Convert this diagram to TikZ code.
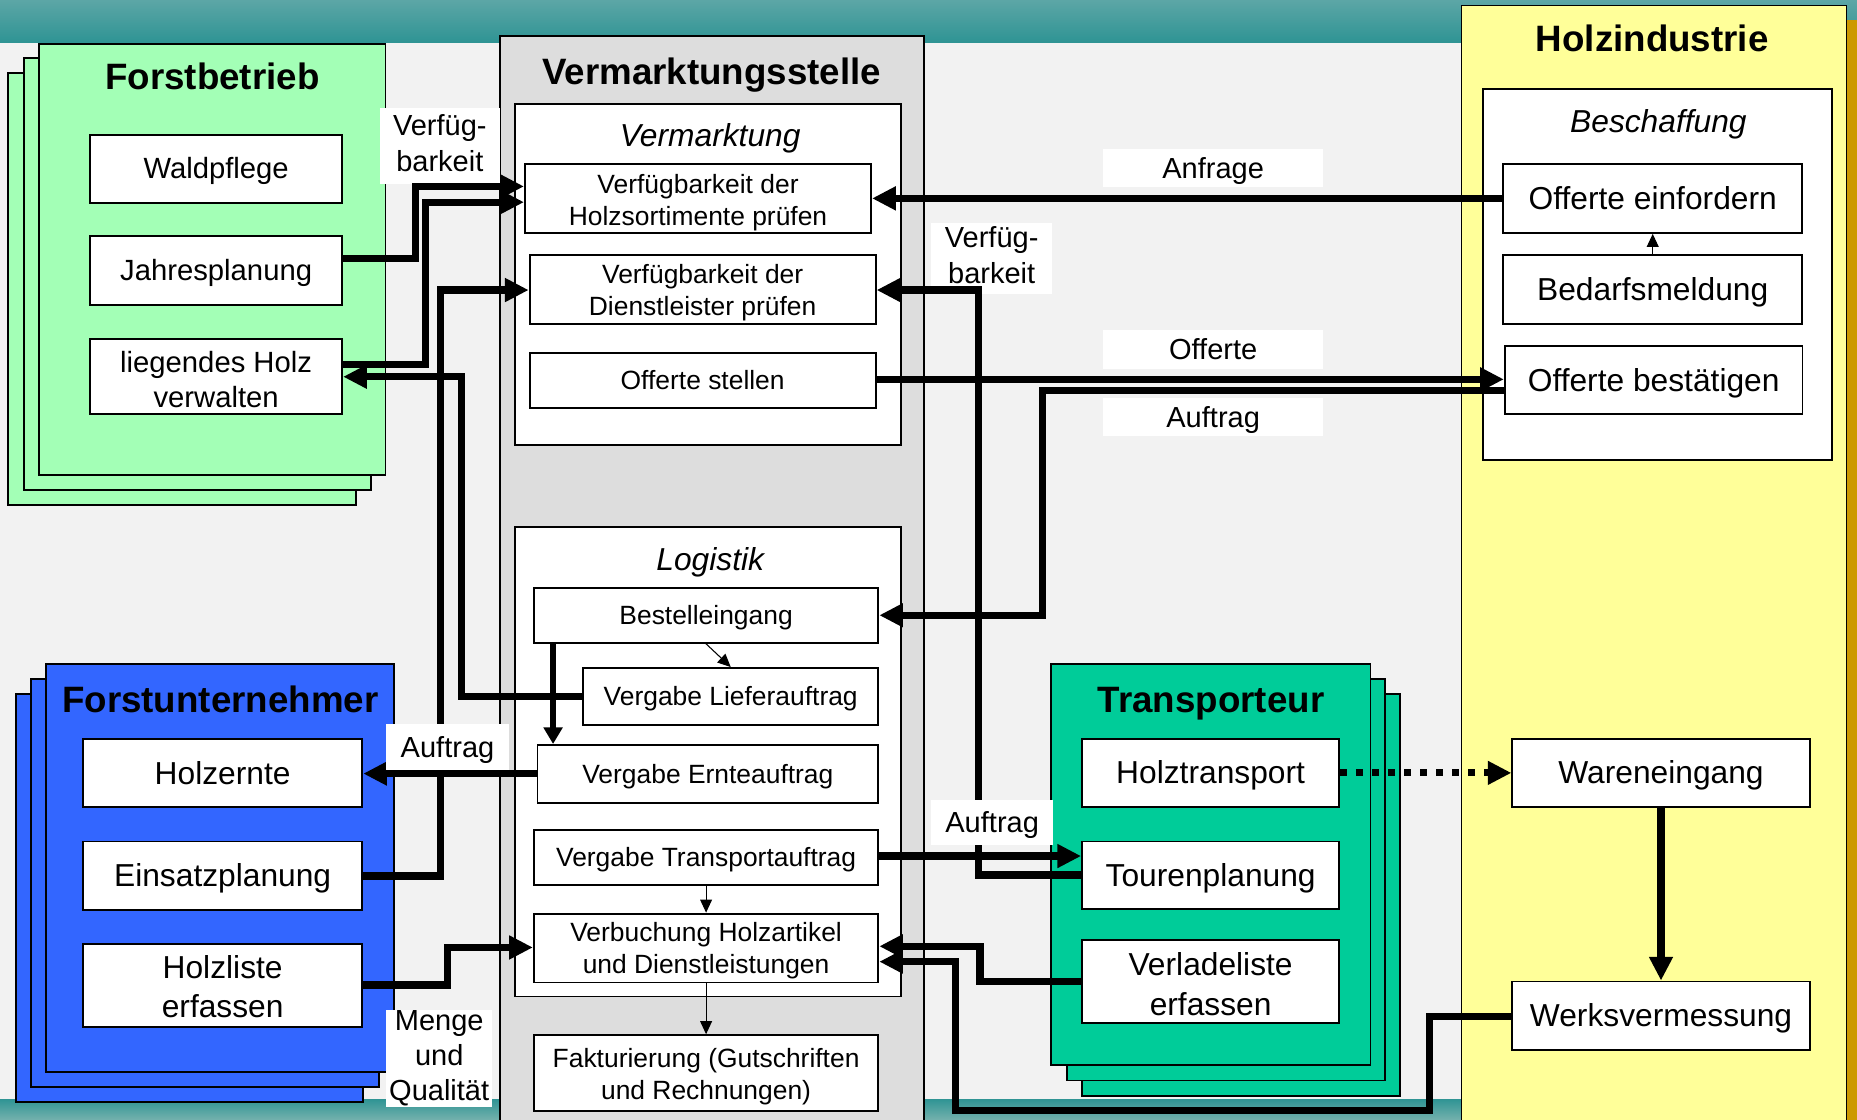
\documentclass[tikz,border=0pt]{standalone}
\usepackage{fontspec}
\setmainfont{Liberation Sans}
\usetikzlibrary{arrows.meta}
\definecolor{bg}{HTML}{F2F2F2}
\definecolor{tealtop}{HTML}{5CA6A6}
\definecolor{tealmid}{HTML}{2F9494}
\definecolor{tealbot}{HTML}{72B0AC}
\definecolor{panelgray}{HTML}{DDDDDD}
\definecolor{forstgreen}{HTML}{A3FFB6}
\definecolor{fublue}{HTML}{3366FF}
\definecolor{trgreen}{HTML}{00CC99}
\definecolor{holzyellow}{HTML}{FFFF99}
\definecolor{goldstrip}{HTML}{CC9900}
% invisible strut with the ascent and descent of the text face
\newcommand\bxstrut{\rule[-0.212em]{0pt}{1.117em}}
\begin{document}
\begin{tikzpicture}[x=1pt,y=-1pt,
  frame/.style={draw=black,line width=1.6pt},
  struts/.style={execute at begin node=\bxstrut,execute at end node=\bxstrut},
  sfont/.style={font=\fontsize{22.3}{27}\selectfont},
  mfont/.style={font=\fontsize{24.7}{30}\selectfont},
  lfont/.style={font=\fontsize{26.8}{33}\selectfont},
  title/.style={struts,inner sep=0pt,font=\fontsize{31}{37}\selectfont\bfseries},
  head/.style={struts,inner sep=0pt,font=\fontsize{26.8}{32}\selectfont\itshape},
  boxbase/.style={struts,draw=black,fill=white,line width=1.6pt,inner sep=0pt,align=center},
  btxt/.style={inner sep=0pt,align=center},
  sbox/.style={boxbase,sfont},
  mbox/.style={boxbase,mfont},
  lbox/.style={boxbase,lfont},
  lbl/.style={struts,fill=white,inner sep=0pt,align=center,font=\fontsize{24.5}{30}\selectfont},
  conn/.style={line width=6pt,-{Triangle[length=20pt,width=19pt]}},
  dotconn/.style={line width=6pt,dash pattern=on 6pt off 7.5pt,-{Triangle[length=20pt,width=19pt]}},
  midconn/.style={line width=5pt,-{Triangle[length=14pt,width=15.5pt]}},
  thinconn/.style={line width=0.9pt,-{Triangle[length=11pt,width=10pt]}}
]
\useasboundingbox (0,0) rectangle (1568,945);
\clip (0,0) rectangle (1568,945);

% background and bands
\fill[bg] (0,0) rectangle (1568,945);
\shade[top color=tealtop,bottom color=tealmid] (0,0) rectangle (1568,35.5);
\shade[top color=tealmid,bottom color=tealbot] (0,928) rectangle (1568,945);

% Vermarktungsstelle column
\draw[frame,fill=panelgray] (422.2,30.2) rectangle (780,960);
\node[title] (vsT) at (601,60.3) {Vermarktungsstelle};
\draw[frame,fill=white] (434.7,87.5) rectangle (760.5,375.4);
\node[head] (vmkT) at (599.7,114.6) {Vermarktung};
\draw[frame,fill=white] (434.7,444.8) rectangle (760.5,841.4);
\node[head] (logT) at (599.7,472) {Logistik};

% Holzindustrie column
\fill[goldstrip] (1559,17) rectangle (1568,960);
\draw[draw=black,line width=1.2pt,fill=holzyellow] (1234,4.5) rectangle (1559,960);
\node[title] (hiT) at (1395,33) {Holzindustrie};
\draw[frame,fill=white] (1252,75.4) rectangle (1546.6,388.4);
\node[head] (besT) at (1400.3,102.5) {Beschaffung};

% Forstbetrieb stack
\draw[frame,fill=forstgreen] (7,62) rectangle (300.5,426.4);
\draw[frame,fill=forstgreen] (20,49.2) rectangle (313,413.7);
\draw[frame,fill=forstgreen] (32.6,36.8) rectangle (325.5,401.1);
\node[title] (fbT) at (179.3,64.8) {Forstbetrieb};

% Forstunternehmer stack
\draw[frame,fill=fublue] (13.2,586) rectangle (306.8,930.8);
\draw[frame,fill=fublue] (26.2,573.3) rectangle (320,917.6);
\draw[frame,fill=fublue] (39.1,560.3) rectangle (333,905);
\node[title] (fuT) at (186,590.5) {Forstunternehmer};

% Transporteur stack
\draw[frame,fill=trgreen] (913.6,585.9) rectangle (1182.1,925.2);
\draw[frame,fill=trgreen] (901.1,573.3) rectangle (1169.6,912.3);
\draw[frame,fill=trgreen] (887.6,560.3) rectangle (1157.2,899.6);
\node[title] (trT) at (1022.6,590.5) {Transporteur};

% Forstbetrieb tasks
\node[mbox,minimum width=212.9pt,minimum height=57.6pt] (wp) at (182.5,142.5) {Waldpflege};
\node[mbox,minimum width=212.9pt,minimum height=57.6pt] (jp) at (182.5,228.4) {Jahresplanung};
\node[mbox,minimum width=212.9pt,minimum height=63.9pt] (lh) at (182.5,317.9) {};
\node[btxt,mfont] (lhT) at (182.5,320.4) {liegendes Holz\\verwalten};

% Vermarktung tasks
\node[sbox,minimum width=292.3pt,minimum height=57.9pt] (hs) at (589.4,167.7) {};
\node[btxt,sfont] (hsT) at (589.4,171) {Verfügbarkeit der\\Holzsortimente prüfen};
\node[sbox,minimum width=292.2pt,minimum height=58.8pt] (dl) at (593.3,244.4) {};
\node[btxt,sfont] (dlT) at (593.3,247.4) {Verfügbarkeit der\\Dienstleister prüfen};
\node[sbox,minimum width=292.2pt,minimum height=46.4pt] (os) at (593.3,321.2) {Offerte stellen};

% Logistik tasks
\node[sbox,minimum width=290.9pt,minimum height=46.7pt] (be) at (596.2,519.5) {Bestelleingang};
\node[sbox,minimum width=249.3pt,minimum height=48.2pt] (vl) at (617,588.1) {Vergabe Lieferauftrag};
\node[sbox,minimum width=287.8pt,minimum height=49pt] (ve) at (597.7,653.5) {Vergabe Ernteauftrag};
\node[sbox,minimum width=290.9pt,minimum height=46.8pt] (vt) at (596.2,723.9) {Vergabe Transportauftrag};
\node[sbox,minimum width=290.9pt,minimum height=58.2pt] (vb) at (596.2,800.5) {};
\node[btxt,sfont] (vbT) at (596.2,803) {Verbuchung Holzartikel\\und Dienstleistungen};
\node[sbox,minimum width=290.9pt,minimum height=63.9pt] (fk) at (596.2,906) {};
\node[btxt,sfont] (fkT) at (596.2,909.5) {Fakturierung (Gutschriften\\und Rechnungen)};

% Forstunternehmer tasks
\node[lbox,minimum width=235.9pt,minimum height=57.3pt] (he) at (188,652.9) {Holzernte};
\node[lbox,minimum width=235.9pt,minimum height=57.9pt] (ep) at (188,739.5) {Einsatzplanung};
\node[lbox,minimum width=235.9pt,minimum height=70pt] (hl) at (188,832) {};
\node[btxt,lfont] (hlT) at (188,833.2) {Holzliste\\erfassen};

% Transporteur tasks
\node[lbox,minimum width=217.1pt,minimum height=57.9pt] (ht) at (1022.2,652.6) {Holztransport};
\node[lbox,minimum width=217.1pt,minimum height=57.3pt] (tp) at (1022.2,739.2) {Tourenplanung};
\node[lbox,minimum width=217.1pt,minimum height=70pt] (vle) at (1022.2,829) {};
\node[btxt,lfont] (vleT) at (1022.2,831) {Verladeliste\\erfassen};

% Holzindustrie tasks
\node[lbox,minimum width=252.1pt,minimum height=57.9pt] (oe) at (1395.5,167.7) {Offerte einfordern};
\node[lbox,minimum width=252.1pt,minimum height=58.5pt] (bm) at (1395.5,244.3) {Bedarfsmeldung};
\node[lbox,minimum width=251.4pt,minimum height=57.9pt] (ob) at (1396.3,320.9) {Offerte bestätigen};
\node[lbox,minimum width=251pt,minimum height=57.9pt] (we) at (1402.5,652.6) {Wareneingang};
\node[lbox,minimum width=251pt,minimum height=57.9pt] (wv) at (1402.5,857.7) {Werksvermessung};

% labels lying under the connectors
\node[lbl,minimum width=101.7pt,minimum height=63.7pt] (lbVL) at (371.35,123.3) {Verfüg-\\barkeit};
\node[lbl,minimum width=102.5pt,minimum height=60pt] (lbVR) at (837.35,218) {Verfüg-\\barkeit};
\node[lbl,minimum width=185.7pt,minimum height=32.3pt] (lbAnf) at (1024.35,142.15) {Anfrage};
\node[lbl,minimum width=185.7pt,minimum height=32.2pt] (lbOff) at (1024.35,295.1) {Offerte};
\node[lbl,minimum width=185.7pt,minimum height=32.3pt] (lbAuf) at (1024.35,352.35) {Auftrag};

% connectors
\draw[conn] (jp.east |- 0,218) -| (350.6,157.4) -- (hs.west |- 0,157.4);
\draw[conn] (lh.east |- 0,307.6) -| (359.6,170.7) -- (hs.west |- 0,170.7);
\draw[conn] (vl.west) -| (389.6,318.1) -- (lh.east |- 0,318.1);
\draw[conn] (ep.east |- 0,739.7) -| (371.6,244.9) -- (dl.west |- 0,244.9);
\draw[conn] (oe.west |- 0,167.5) -- (hs.east |- 0,167.5);
\draw[conn] (os.east |- 0,320.3) -- (ob.west |- 0,320.3);
\draw[conn] (ob.west |- 0,330) -| (880.1,519.5) -- (be.east);
\draw[conn] (tp.west |- 0,738.8) -| (826.1,244.9) -- (dl.east |- 0,244.9);
\draw[conn] (vt.east |- 0,722.8) -- (tp.west |- 0,722.8);
\draw[conn] (ve.west |- 0,653.2) -- (he.east |- 0,653.2);
\draw[conn] (hl.east |- 0,831.7) -| (378.1,800) -- (vb.west |- 0,800);
\draw[conn] (vle.west |- 0,828.4) -| (827.5,799) -- (vb.east |- 0,799);
\draw[conn] (wv.west |- 0,858.2) -| (1207.1,937.3) -| (807,812) -- (vb.east |- 0,812);
\draw[dotconn] (ht.east) -- (we.west);
\draw[conn] (we.south) -- (wv.north);
\draw[midconn] (be.south -| 467,0) -- (ve.north -| 467,0);
\draw[thinconn] (be.south) -- (vl.north);
\draw[thinconn] (vt.south) -- (vb.north);
\draw[thinconn] (vb.south) -- (fk.north);
\draw[thinconn] (bm.north) -- (oe.south);

% labels lying over the connectors
\node[lbl,minimum width=103.7pt,minimum height=38.6pt] (lbAufL) at (377.85,630.9) {Auftrag};
\node[lbl,minimum width=103.3pt,minimum height=38pt] (lbAufM) at (837.75,694.5) {Auftrag};
\node[lbl,minimum width=89.7pt,minimum height=82pt,font=\fontsize{24.5}{29.5}\selectfont] (lbMQ) at (370.85,893.5) {Menge\\und\\Qualität};
\end{tikzpicture}
\end{document}
